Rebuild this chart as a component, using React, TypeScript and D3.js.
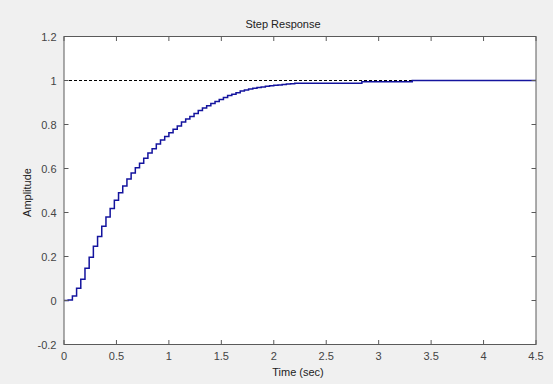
import React from "react";
import * as d3 from "d3";

const sampleTime = 0.04;
const stepValues = [
  0, 0.002, 0.02, 0.056, 0.097, 0.147, 0.197, 0.247, 0.291, 0.338,
  0.379, 0.418, 0.456, 0.49, 0.521, 0.552, 0.579, 0.603, 0.624, 0.647,
  0.67, 0.69, 0.711, 0.729, 0.745, 0.763, 0.778, 0.793, 0.811, 0.825,
  0.836, 0.85, 0.864, 0.875, 0.885, 0.895, 0.905, 0.914, 0.923, 0.932,
  0.938, 0.944, 0.952, 0.957, 0.961, 0.965, 0.968, 0.971, 0.974, 0.976,
  0.978, 0.98, 0.982, 0.984, 0.985, 0.988, 0.988, 0.988, 0.988, 0.988,
  0.988, 0.988, 0.988, 0.988, 0.988, 0.988, 0.988, 0.988, 0.988, 0.988,
  0.988, 0.994, 0.994, 0.994, 0.994, 0.994, 0.994, 0.994, 0.994, 0.994,
  0.994, 0.994, 0.994, 1.0,
];
const endTime = 4.5;
const steadyState = 1;
const xTicks = [0, 0.5, 1, 1.5, 2, 2.5, 3, 3.5, 4, 4.5];
const yTicks = [-0.2, 0, 0.2, 0.4, 0.6, 0.8, 1, 1.2];
const titleText = "Step Response";
const xLabelText = "Time (sec)";
const yLabelText = "Amplitude";

const W = 553;
const H = 384;
const L = 64;
const R = 536;
const T = 36.5;
const B = 344.5;
const FONT = "'Liberation Sans', Arial, Helvetica, sans-serif";

export default function App() {
  const x = d3.scaleLinear().domain([0, 4.5]).range([L, R]);
  const y = d3.scaleLinear().domain([-0.2, 1.2]).range([B, T]);

  const pts: [number, number][] = stepValues.map((v, i) => [i * sampleTime, v]);
  pts.push([endTime, stepValues[stepValues.length - 1]]);
  const line = d3
    .line<[number, number]>()
    .x((d) => x(d[0]))
    .y((d) => y(d[1]))
    .curve(d3.curveStepAfter);

  const fmt = (v: number) => String(Math.round(v * 10) / 10);
  const axisColor = "#5a5a5a";
  const tickLen = 4.5;

  return (
    <svg
      width={W}
      height={H}
      style={{ position: "absolute", left: 0, top: 0, display: "block" }}
      fontFamily={FONT}
    >
      <rect x={0} y={0} width={W} height={H} fill="#f0f0f0" />
      <rect x={L} y={T} width={R - L} height={B - T} fill="#ffffff" />

      <line
        x1={L}
        x2={R}
        y1={y(steadyState)}
        y2={y(steadyState)}
        stroke="#000"
        strokeWidth={1}
        strokeDasharray="3,2"
      />
      <path d={line(pts) || ""} fill="none" stroke="#14149e" strokeWidth={1.5} />

      {/* ticks */}
      {xTicks.map((t) => (
        <g key={"xt" + t}>
          <line x1={x(t)} x2={x(t)} y1={B} y2={B - tickLen} stroke={axisColor} />
          <line x1={x(t)} x2={x(t)} y1={T} y2={T + tickLen} stroke={axisColor} />
          <text
            x={x(t)}
            y={359.5}
            textAnchor="middle"
            fontSize={11}
            fill="#444"
          >
            {fmt(t)}
          </text>
        </g>
      ))}
      {yTicks.map((t) => (
        <g key={"yt" + t}>
          <line x1={L} x2={L + tickLen} y1={y(t)} y2={y(t)} stroke={axisColor} />
          <line x1={R} x2={R - tickLen} y1={y(t)} y2={y(t)} stroke={axisColor} />
          <text
            x={56.5}
            y={y(t) + 4}
            textAnchor="end"
            fontSize={11}
            fill="#444"
          >
            {fmt(t)}
          </text>
        </g>
      ))}

      <rect
        x={L}
        y={T}
        width={R - L}
        height={B - T}
        fill="none"
        stroke={axisColor}
        strokeWidth={1}
      />

      <text x={283} y={28} textAnchor="middle" fontSize={11} fill="#222">
        {titleText}
      </text>
      <text x={298} y={376} textAnchor="middle" fontSize={11} fill="#222">
        {xLabelText}
      </text>
      <text
        transform={`translate(30.5, ${(T + B) / 2 + 2}) rotate(-90)`}
        textAnchor="middle"
        fontSize={11}
        fill="#222"
      >
        {yLabelText}
      </text>
    </svg>
  );
}
